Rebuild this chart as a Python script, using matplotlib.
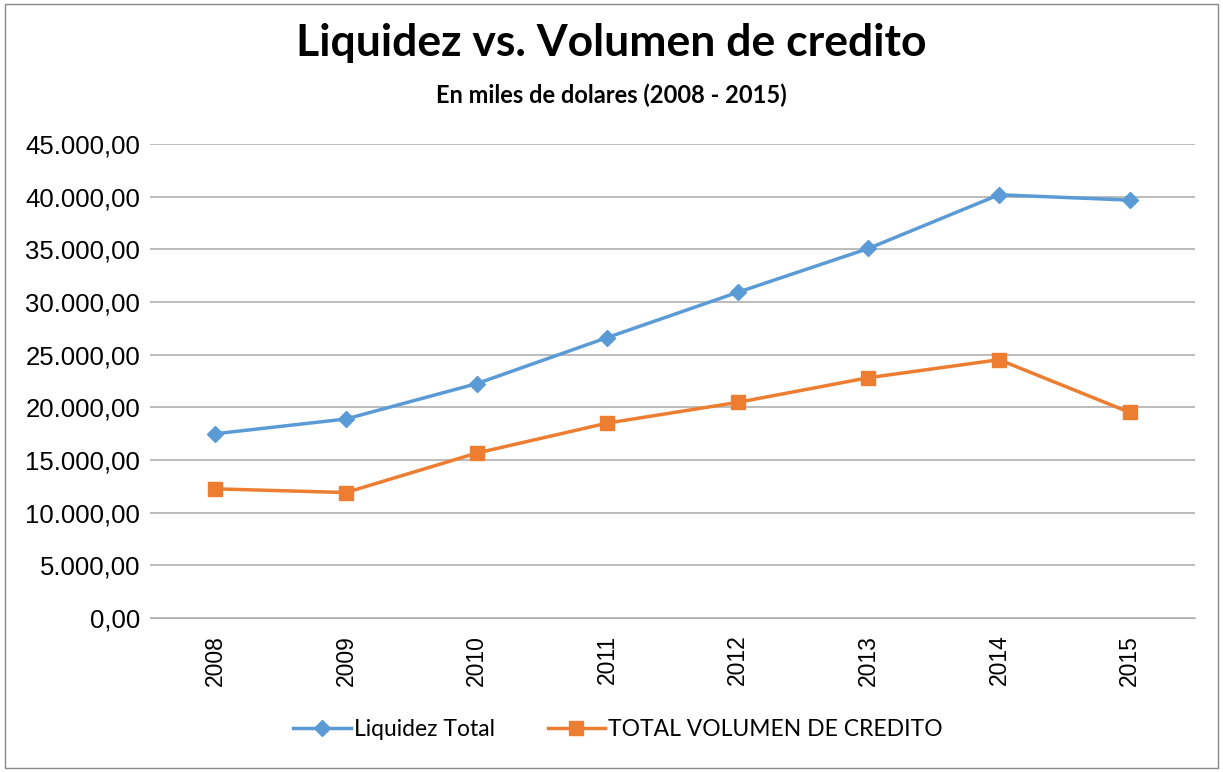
import matplotlib.pyplot as plt
from matplotlib.patches import Rectangle
from matplotlib.ticker import FuncFormatter

years = ["2008", "2009", "2010", "2011", "2012", "2013", "2014", "2015"]
liquidez = [17490, 18890, 22240, 26620, 30920, 35080, 40180, 39670]
credito = [12260, 11910, 15650, 18500, 20470, 22810, 24520, 19520]

plt.rcParams['font.family'] = ['Lato', 'DejaVu Sans']

fig = plt.figure(figsize=(12.23, 7.72), dpi=100)
ax = fig.add_axes([0.1226, 0.1995, 0.8545, 0.614])

x = range(len(years))
ax.plot(x, liquidez, color='#5b9bd5', lw=2.5, marker='D', ms=8, label='Liquidez Total')
ax.plot(x, credito, color='#ed7d31', lw=2.5, marker='s', ms=10, label='TOTAL VOLUMEN DE CREDITO')

def miles(v, pos):
    # formato europeo: 45.000,00
    return f"{v:,.2f}".replace(",", "X").replace(".", ",").replace("X", ".")

ax.set_xlim(-0.5, len(years) - 0.5)
ax.set_ylim(0, 45000)
ax.set_yticks(range(0, 45001, 5000))
ax.yaxis.set_major_formatter(FuncFormatter(miles))
ax.set_xticks(list(x))
ax.set_xticklabels(years, rotation=90, fontfamily='Liberation Sans', fontsize=16.5)
for lbl in ax.get_yticklabels():
    lbl.set_fontfamily('Liberation Sans')
    lbl.set_fontsize(18.5)
ax.grid(axis='y', color='#b0b0b0', lw=1.2)
ax.set_axisbelow(True)
for s in ['top', 'right', 'left']:
    ax.spines[s].set_visible(False)
ax.spines['bottom'].set_color('#b0b0b0')
ax.tick_params(axis='y', length=0, pad=7)
ax.tick_params(axis='x', length=0, pad=12)

fig.text(0.5, 0.9275, 'Liquidez vs. Volumen de credito', ha='center', va='baseline',
         fontsize=32, fontweight='bold')
fig.text(0.5, 0.867, 'En miles de dolares (2008 - 2015)', ha='center', va='baseline',
         fontsize=17, fontweight='bold')

ax.legend(loc='center', bbox_to_anchor=(0.448, -0.235), ncol=2, frameon=False,
          fontsize=16.5, handlelength=2.5, columnspacing=2.3, handletextpad=0.15)

fig.patches.append(Rectangle((0.004, 0.005), 0.992, 0.99, transform=fig.transFigure,
                             fill=False, edgecolor='#888888', lw=1))

fig.savefig('out.png', dpi=100)
